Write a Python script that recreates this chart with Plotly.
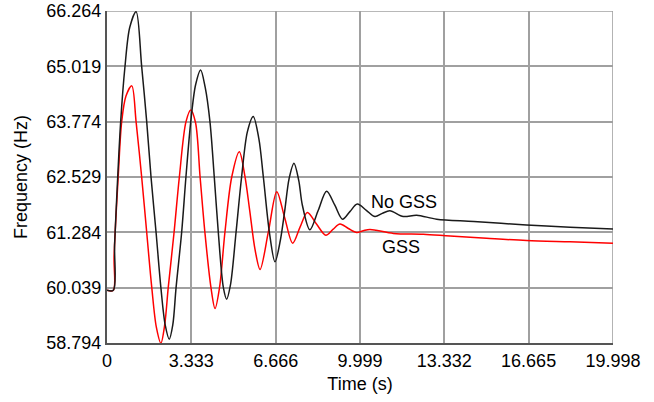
import plotly.graph_objects as go

# ---- data ----
t_nogss = [0, 0.25, 0.30, 0.38, 0.54, 0.71, 0.90, 1.15, 1.37, 1.57, 1.74, 1.94, 2.13, 2.30, 2.46,
           2.60, 2.73, 2.95, 3.12, 3.31, 3.50, 3.70, 3.88, 4.07, 4.24, 4.40, 4.60, 4.73, 4.88,
           5.10, 5.32, 5.55, 5.78, 6.00, 6.18, 6.42, 6.64, 6.85, 7.02, 7.20, 7.39, 7.58, 7.72,
           8.02, 8.35, 8.68, 9.00, 9.31, 9.60, 9.89, 10.25, 10.59, 10.88, 11.18, 11.71, 12.24,
           13.03, 14.5, 16.58, 18.3, 19.998]
f_nogss = [59.98, 59.98, 61.0, 62.01, 63.77, 65.01, 65.90, 66.25, 65.02, 63.77, 62.53, 61.28, 60.04, 59.20, 58.88,
           59.20, 60.04, 61.28, 62.53, 63.77, 64.60, 64.94, 64.55, 63.77, 62.53, 61.28, 60.04, 59.78, 60.10,
           61.28, 62.53, 63.55, 63.89, 63.40, 62.53, 61.28, 60.62, 61.10, 61.75, 62.50, 62.84, 62.45, 61.90,
           61.34, 61.78, 62.21, 61.90, 61.58, 61.75, 61.92, 61.78, 61.64, 61.71, 61.77, 61.64, 61.67,
           61.58, 61.53, 61.45, 61.40, 61.36]

t_gss = [0, 0.25, 0.28, 0.45, 0.58, 0.75, 0.98, 1.15, 1.37, 1.57, 1.77, 1.95, 2.13, 2.28, 2.42,
         2.65, 2.86, 3.12, 3.31, 3.50, 3.68, 3.87, 4.11, 4.27, 4.45, 4.66, 4.93, 5.23, 5.45, 5.64,
         5.85, 6.05, 6.38, 6.71, 7.02, 7.34, 7.63, 7.92, 8.28, 8.65, 8.93, 9.21, 9.54, 9.87, 10.13,
         10.39, 11.32, 12.5, 13.56, 15.0, 16.58, 18.3, 19.998]
f_gss = [59.98, 59.98, 60.74, 62.61, 63.77, 64.35, 64.58, 63.77, 62.53, 61.28, 60.04, 59.15, 58.79, 59.20, 60.04,
         61.28, 62.53, 63.77, 64.04, 63.75, 62.53, 61.28, 60.04, 59.57, 60.05, 61.28, 62.53, 63.10, 62.55, 61.78,
         60.90, 60.45, 61.30, 62.20, 61.62, 61.04, 61.40, 61.73, 61.47, 61.22, 61.35, 61.47, 61.37, 61.28, 61.32,
         61.35, 61.26, 61.24, 61.20, 61.15, 61.10, 61.07, 61.04]

x_ticks = [0, 3.333, 6.666, 9.999, 13.332, 16.665, 19.998]
x_tick_text = ["0", "3.333", "6.666", "9.999", "13.332", "16.665", "19.998"]
y_ticks = [58.794, 60.039, 61.284, 62.529, 63.774, 65.019, 66.264]
y_tick_text = ["58.794", "60.039", "61.284", "62.529", "63.774", "65.019", "66.264"]

labels = ["No GSS", "GSS"]
label_pos = [(11.73, 61.97), (11.61, 60.96)]

FONT = "Arial, Liberation Sans, sans-serif"
FS = 18
GRID = "#a0a0a0"

fig = go.Figure()
fig.add_trace(go.Scatter(x=t_gss, y=f_gss, mode="lines", name="GSS",
                         line=dict(color="#ff0000", width=1.5, shape="spline", smoothing=0.9)))
fig.add_trace(go.Scatter(x=t_nogss, y=f_nogss, mode="lines", name="No GSS",
                         line=dict(color="#1a1a1a", width=1.5, shape="spline", smoothing=0.9)))

for text, (x, y) in zip(labels, label_pos):
    fig.add_annotation(x=x, y=y, text=text, showarrow=False,
                       font=dict(family=FONT, size=FS, color="black"))

# top / right frame edges (grid lines at the last ticks)
fig.add_shape(type="line", xref="paper", x0=0, x1=1, yref="y", y0=y_ticks[-1], y1=y_ticks[-1],
              line=dict(color=GRID, width=1.5), layer="below")
fig.add_shape(type="line", yref="paper", y0=0, y1=1, xref="x", x0=x_ticks[-1], x1=x_ticks[-1],
              line=dict(color=GRID, width=1.5), layer="below")

fig.update_layout(
    width=654, height=402,
    margin=dict(l=107, r=41, t=11, b=59),
    paper_bgcolor="white", plot_bgcolor="white",
    showlegend=False,
    font=dict(family=FONT, size=FS, color="black"),
)
fig.update_xaxes(range=[0, 19.998 + 0.002], tickvals=x_ticks, ticktext=x_tick_text,
                 automargin=False,
                 showgrid=True, gridcolor=GRID, gridwidth=1.5,
                 showline=True, linecolor="#555555", linewidth=2,
                 ticks="", zeroline=False,
                 title=dict(text="Time (s)", standoff=8, font=dict(size=FS)),
                 tickfont=dict(size=FS))
fig.update_yaxes(range=[58.794, 66.264 + 0.001], tickvals=y_ticks, ticktext=y_tick_text,
                 automargin=False,
                 showgrid=True, gridcolor=GRID, gridwidth=1.5,
                 showline=True, linecolor="#555555", linewidth=2,
                 ticks="", zeroline=False,
                 title=dict(text="Frequency (Hz)", standoff=14, font=dict(size=FS)),
                 tickfont=dict(size=FS))

fig.write_html("out.html", config={"displayModeBar": False},
               post_script="document.body.style.margin='0';document.body.style.overflow='hidden';")
